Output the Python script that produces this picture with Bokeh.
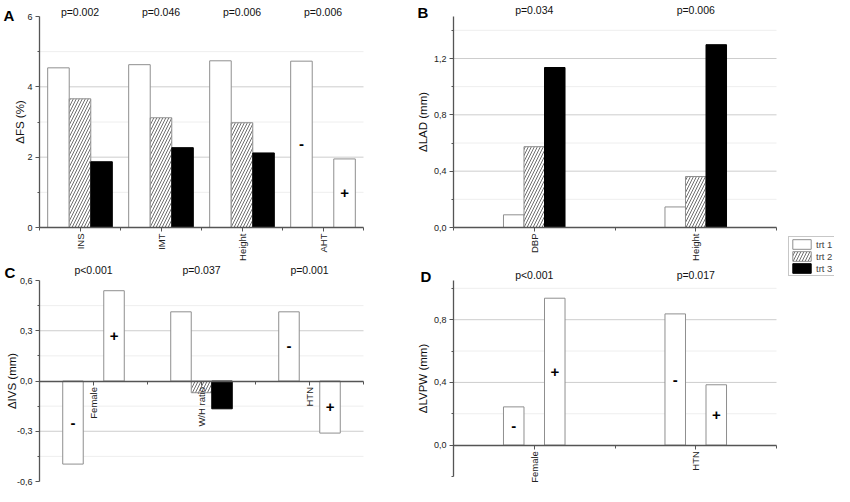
import math
from bokeh.plotting import figure
from bokeh.layouts import row, column
from bokeh.models import (FixedTicker, CustomJSTickFormatter, Label, Legend,
                          LegendItem, Range1d)
from bokeh.core.properties import value
from bokeh.embed import file_html
from bokeh.resources import INLINE

FONT = "Liberation Sans"
NAN = float("nan")

# ---------------- data ----------------
A_cats = ["INS", "IMT", "Height", "AHT"]
A_trt1 = [4.54, 4.63, 4.74, None]
A_trt2 = [3.66, 3.12, 2.98, None]
A_trt3 = [1.87, 2.27, 2.12, None]
A_neg = [None, None, None, 4.73]
A_pos = [None, None, None, 1.95]
A_p = ["p=0.002", "p=0.046", "p=0.006", "p=0.006"]
A_yticks = [0, 2, 4, 6]
A_yminor = [1, 3, 5]

B_cats = ["DBP", "Height"]
B_trt1 = [0.09, 0.146]
B_trt2 = [0.574, 0.362]
B_trt3 = [1.136, 1.298]
B_neg = [None, None]
B_pos = [None, None]
B_p = ["p=0.034", "p=0.006"]
B_yticks = [0.0, 0.4, 0.8, 1.2]
B_yminor = [0.2, 0.6, 1.0, 1.4]

C_cats = ["Female", "W/H ratio", "HTN"]
C_trt1 = [None, 0.413, None]
C_trt2 = [None, -0.07, None]
C_trt3 = [None, -0.166, None]
C_neg = [-0.496, None, 0.413]
C_pos = [0.539, None, -0.311]
C_p = ["p<0.001", "p=0.037", "p=0.001"]
C_yticks = [-0.6, -0.3, 0.0, 0.3, 0.6]
C_yminor = [-0.45, -0.15, 0.15, 0.45]

D_cats = ["Female", "HTN"]
D_trt1 = [None, None]
D_trt2 = [None, None]
D_trt3 = [None, None]
D_neg = [0.244, 0.837]
D_pos = [0.937, 0.385]
D_p = ["p<0.001", "p=0.017"]
D_yticks = [0.0, 0.4, 0.8]
D_yminor = [-0.2, 0.2, 0.6, 1.0]

legend_labels = ["trt 1", "trt 2", "trt 3"]

# ---------------- styles ----------------
WHITE = dict(fill_color="white", line_color="#8f8f8f", line_width=1)
HATCH = dict(fill_color="white", line_color="#8f8f8f", line_width=1,
             hatch_pattern="/", hatch_color="#4a4a4a", hatch_scale=6,
             hatch_weight=0.8)
BLACK = dict(fill_color="black", line_color="black", line_width=1)
AXIS_COLOR = "#555555"


def lin_range(size, p0, v0, p1, v1, from_top=False):
    """Range whose values v0, v1 land on pixels p0, p1 of a frame of `size`."""
    if not from_top:
        s = (p1 - p0) / (v1 - v0)
        start = v0 - p0 / s
    else:
        s = (p0 - p1) / (v1 - v0)
        start = v0 - (size - p0) / s
    return start, start + size / s, s


def panel(cats, trt1, trt2, trt3, neg, pos, pvals, letter, ylabel,
          yticks, yminor, ybounds, decimals, bar_w, geom):
    n = len(cats)
    W, H = geom["size"]
    x0, x1, _ = lin_range(W, geom["xpx"][0], 0.5, geom["xpx"][1], n + 0.5)
    y0, y1, ys = lin_range(H, geom["ypx"][0], geom["yval"][0],
                           geom["ypx"][1], geom["yval"][1], from_top=True)
    p = figure(width=W, height=H, x_range=Range1d(x0, x1),
               y_range=Range1d(y0, y1), output_backend="svg",
               toolbar_location=None, min_border=0, outline_line_color=None)
    p.grid.visible = False

    # horizontal grid lines between the axis ends
    lo, hi = ybounds
    gmaj = [t for t in yticks if lo < t < hi and t != 0]
    gmin = [t for t in yminor if lo < t < hi]
    p.segment(x0=[0.5] * len(gmin), x1=[n + 0.5] * len(gmin), y0=gmin, y1=gmin,
              line_color="#eeeeee", line_width=1)
    p.segment(x0=[0.5] * len(gmaj), x1=[n + 0.5] * len(gmaj), y0=gmaj, y1=gmaj,
              line_color="#cdcdcd", line_width=1)

    def bars(vals, k, style):
        xs = [i + 1 + k * bar_w for i in range(n)]
        tops = [NAN if v is None else v for v in vals]
        p.vbar(x=xs, top=tops, bottom=0, width=bar_w, **style)
        return xs, tops

    bars(trt1, -1, WHITE)
    bars(trt2, 0, HATCH)
    bars(trt3, 1, BLACK)
    for vals, k, sign in ((neg, -1, "-"), (pos, 1, "+")):
        xs, tops = bars(vals, k, WHITE)
        p.text(x=xs, y=[t / 2 for t in tops], text=[sign] * n,
               text_font=value(FONT), text_font_style="bold",
               text_font_size="15px", text_align="center",
               text_baseline="middle", text_color="black")

    # p-values above each group
    pval_y = y1 - geom["p_py"] / ys
    p.text(x=list(range(1, n + 1)), y=[pval_y] * n, text=pvals,
           text_font=value(FONT), text_font_size="10.5px", text_align="center",
           text_baseline="middle", text_color="#111111")

    # x axis placed at y = 0
    xa = p.xaxis[0]
    xa.fixed_location = 0
    xa.bounds = (0.5, n + 0.5)
    xa.ticker = FixedTicker(ticks=list(range(1, n + 1)),
                            minor_ticks=[i + 0.5 for i in range(n + 1)])
    xa.major_label_overrides = {i + 1: c for i, c in enumerate(cats)}
    xa.major_label_orientation = math.pi / 2
    xa.major_label_text_font = FONT
    xa.major_label_text_font_size = "9.5px"
    xa.major_label_text_color = "#222222"
    xa.major_label_standoff = 2
    xa.major_tick_in = 0
    xa.major_tick_out = 4
    xa.minor_tick_in = 0
    xa.minor_tick_out = 3
    xa.axis_line_color = AXIS_COLOR
    xa.axis_line_width = 1.3
    xa.major_tick_line_color = AXIS_COLOR
    xa.minor_tick_line_color = AXIS_COLOR

    # y axis placed at the left end of the category axis
    ya = p.yaxis[0]
    ya.fixed_location = 0.5
    ya.bounds = ybounds
    ya.ticker = FixedTicker(ticks=yticks, minor_ticks=yminor)
    ya.formatter = CustomJSTickFormatter(
        code="return tick.toFixed(%d).replace('.', ',')" % decimals)
    ya.major_label_text_font = FONT
    ya.major_label_text_font_size = "9px"
    ya.major_label_text_color = "#222222"
    ya.major_label_standoff = 3
    ya.major_tick_in = 0
    ya.major_tick_out = 4
    ya.minor_tick_in = 0
    ya.minor_tick_out = 2
    ya.axis_line_color = AXIS_COLOR
    ya.axis_line_width = 1.3
    ya.major_tick_line_color = AXIS_COLOR
    ya.minor_tick_line_color = AXIS_COLOR
    ya.axis_label = ylabel
    ya.axis_label_text_font = FONT
    ya.axis_label_text_font_style = "normal"
    ya.axis_label_text_font_size = "11.5px"
    ya.axis_label_text_color = "#111111"
    ya.axis_label_standoff = geom["title_standoff"]

    lx, ly = geom["letter_px"]
    p.add_layout(Label(x=x0, y=y1, x_offset=lx, y_offset=-ly, text=letter,
                       text_font=FONT, text_font_style="bold",
                       text_font_size="15px", text_baseline="top",
                       text_align="left", text_color="black"))
    return p


# frame geometry (pixels inside each figure)
GA = dict(size=(416, 262), xpx=(39, 363), ypx=(227, 16), yval=(0, 6),
          p_py=11, letter_px=(3, 6), title_standoff=-2)
GB = dict(size=(367, 262), xpx=(37, 360), ypx=(227, 58), yval=(0, 1.2),
          p_py=9, letter_px=(1, 3), title_standoff=2)
GC = dict(size=(416, 224), xpx=(39, 363), ypx=(219, 18), yval=(-0.6, 0.6),
          p_py=7, letter_px=(4, 1), title_standoff=-4)
GD = dict(size=(367, 224), xpx=(37, 360), ypx=(214, 18), yval=(-0.2, 1.05),
          p_py=12, letter_px=(4, 5), title_standoff=2)

pA = panel(A_cats, A_trt1, A_trt2, A_trt3, A_neg, A_pos, A_p, "A", "ΔFS (%)",
           A_yticks, A_yminor, (0, 6), 0, 0.266, GA)
pB = panel(B_cats, B_trt1, B_trt2, B_trt3, B_neg, B_pos, B_p, "B", "ΔLAD (mm)",
           B_yticks, B_yminor, (0, 1.5), 1, 0.127, GB)
pC = panel(C_cats, C_trt1, C_trt2, C_trt3, C_neg, C_pos, C_p, "C", "ΔIVS (mm)",
           C_yticks, C_yminor, (-0.6, 0.6), 1, 0.19, GC)
pD = panel(D_cats, D_trt1, D_trt2, D_trt3, D_neg, D_pos, D_p, "D", "ΔLVPW (mm)",
           D_yticks, D_yminor, (-0.2, 1.05), 1, 0.127, GD)

# legend column (its renderers hold no visible data)
leg = figure(width=51, height=486, x_range=Range1d(0, 1), y_range=Range1d(0, 1),
             output_backend="svg", toolbar_location=None, min_border=0,
             x_axis_type=None, y_axis_type=None, outline_line_color=None)
leg.grid.visible = False
rs = [leg.vbar(x=[NAN], top=[NAN], width=0.1, **st)
      for st in (WHITE, HATCH, BLACK)]
legend = Legend(items=[LegendItem(label=lab, renderers=[r])
                       for lab, r in zip(legend_labels, rs)],
                location=(5, 210), orientation="vertical", padding=1,
                spacing=0, margin=0, glyph_width=23, glyph_height=12,
                label_height=12, label_standoff=3, label_width=18,
                label_text_font=FONT, label_text_font_size="9.5px",
                border_line_color="#8f8f8f", border_line_width=1)
leg.add_layout(legend)

layout = row(column(pA, pC), column(pB, pD), leg)
open("out.html", "w").write(file_html(layout, INLINE))
